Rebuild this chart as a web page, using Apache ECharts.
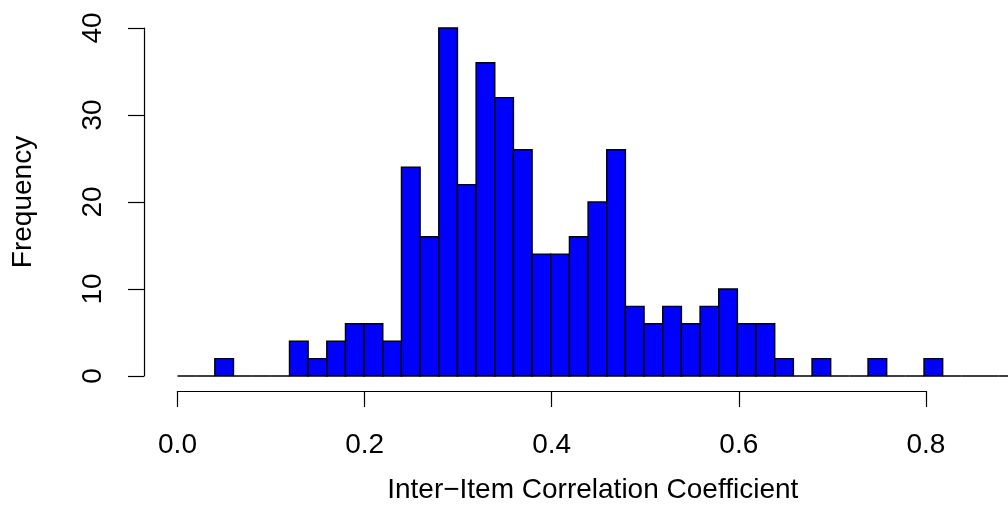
<!DOCTYPE html>
<html>
<head>
<meta charset="utf-8">
<script src="https://cdn.jsdelivr.net/npm/echarts@6/dist/echarts.min.js"></script>
<style>
  html, body { margin: 0; padding: 0; background: #ffffff; }
  #chart { width: 1008px; height: 527px; }
</style>
</head>
<body>
<div id="chart"></div>
<script>
// Histogram bin edges (width 0.02) and the count in each bin
const breaks = [
  0.00, 0.02, 0.04, 0.06, 0.08, 0.10, 0.12, 0.14, 0.16, 0.18,
  0.20, 0.22, 0.24, 0.26, 0.28, 0.30, 0.32, 0.34, 0.36, 0.38,
  0.40, 0.42, 0.44, 0.46, 0.48, 0.50, 0.52, 0.54, 0.56, 0.58,
  0.60, 0.62, 0.64, 0.66, 0.68, 0.70, 0.72, 0.74, 0.76, 0.78,
  0.80, 0.82, 0.84, 0.86, 0.88, 0.90
];
const counts = [
  0, 0, 2, 0, 0, 0, 4, 2, 4, 6,
  6, 4, 24, 16, 40, 22, 36, 32, 26, 14,
  14, 16, 20, 26, 8, 6, 8, 6, 8, 10,
  6, 6, 2, 0, 2, 0, 0, 2, 0, 0,
  2, 0, 0, 0, 0
];
const xTicks = [0.0, 0.2, 0.4, 0.6, 0.8];
const yTicks = [0, 10, 20, 30, 40];
const xTitle = 'Inter\u2212Item Correlation Coefficient';
const yTitle = 'Frequency';

const bins = counts.map((c, i) => [breaks[i], breaks[i + 1], c]);

const FONT = '"Liberation Sans", Arial, Helvetica, sans-serif';
const FS = 28;

function renderBin(params, api) {
  const top = api.coord([api.value(0), api.value(2)]);
  const base = api.coord([api.value(1), 0]);
  return {
    type: 'rect',
    shape: { x: top[0], y: top[1], width: base[0] - top[0], height: base[1] - top[1] },
    style: { fill: '#0000ff', stroke: '#000000', lineWidth: 1.4 }
  };
}

const chart = echarts.init(document.getElementById('chart'), null, { renderer: 'canvas' });
chart.setOption({
  backgroundColor: '#ffffff',
  animation: false,
  grid: [
    // plotting area for the bars
    { left: 177.5, top: 28, width: 832.6, height: 348 },
    // area spanned by the labelled x axis (0.0 .. 0.8)
    { left: 177.5, top: 28, width: 748.4, height: 348 }
  ],
  xAxis: [
    {
      gridIndex: 0, type: 'value', min: 0, max: 0.89,
      axisLine: { show: false, onZero: false }, axisTick: { show: false },
      axisLabel: { show: false }, splitLine: { show: false },
      name: xTitle, nameLocation: 'middle', nameGap: 100,
      nameTextStyle: { fontSize: FS, color: '#000', fontFamily: FONT }
    },
    {
      gridIndex: 1, type: 'value', min: xTicks[0], max: xTicks[xTicks.length - 1], interval: 0.2,
      offset: 15,
      axisLine: { show: true, onZero: false, lineStyle: { color: '#000', width: 1.2 } },
      axisTick: { show: true, length: 16, lineStyle: { color: '#000', width: 1.2 } },
      axisLabel: { margin: 40, fontSize: FS, color: '#000', fontFamily: FONT,
        formatter: v => v.toFixed(1) },
      splitLine: { show: false }
    }
  ],
  yAxis: [
    {
      gridIndex: 0, type: 'value', min: yTicks[0], max: yTicks[yTicks.length - 1], interval: 10,
      offset: 33.5,
      axisLine: { show: true, onZero: false, lineStyle: { color: '#000', width: 1.2 } },
      axisTick: { show: true, length: 16, lineStyle: { color: '#000', width: 1.2 } },
      axisLabel: { rotate: 90, margin: 37, fontSize: FS, color: '#000', fontFamily: FONT },
      splitLine: { show: false },
      name: yTitle, nameLocation: 'middle', nameGap: 107,
      nameTextStyle: { fontSize: FS, color: '#000', fontFamily: FONT }
    },
    { gridIndex: 1, type: 'value', min: 0, max: 40, show: false }
  ],
  series: [
    {
      type: 'custom',
      xAxisIndex: 0, yAxisIndex: 0,
      clip: false,
      renderItem: renderBin,
      encode: { x: [0, 1], y: 2 },
      data: bins
    }
  ]
});
</script>
</body>
</html>
